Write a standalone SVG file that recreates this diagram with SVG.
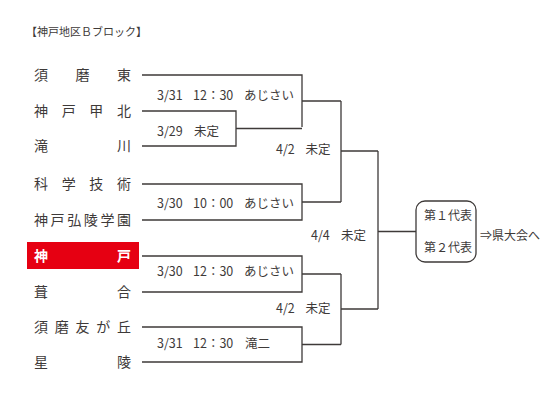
<svg xmlns="http://www.w3.org/2000/svg" width="560" height="400" viewBox="0 0 560 400">
<style>
text{font-family:"Noto Sans CJK JP","Noto Sans",sans-serif;fill:#3e3a39}
.team{font-size:14px}
.lbl{font-size:12.5px}
.ln{stroke:#3e3a39;stroke-width:1.3;fill:none}
</style>
<rect width="560" height="400" fill="#fff"/>
<text id="title" x="26" y="36" style="font-size:11px">【神戸地区Ｂブロック】</text>
<g id="teams">
<g id="t1"><text class="team" y="80"><tspan x="34">須</tspan><tspan x="75.5">磨</tspan><tspan x="117">東</tspan></text></g>
<g id="t2"><text class="team" y="116"><tspan x="34">神</tspan><tspan x="61.7">戸</tspan><tspan x="89.3">甲</tspan><tspan x="117">北</tspan></text></g>
<g id="t3"><text class="team" y="151"><tspan x="34">滝</tspan><tspan x="117">川</tspan></text></g>
<g id="t4"><text class="team" y="189"><tspan x="34">科</tspan><tspan x="61.7">学</tspan><tspan x="89.3">技</tspan><tspan x="117">術</tspan></text></g>
<g id="t5"><text class="team" y="225"><tspan x="34">神</tspan><tspan x="50.6">戸</tspan><tspan x="67.2">弘</tspan><tspan x="83.8">陵</tspan><tspan x="100.4">学</tspan><tspan x="117">園</tspan></text></g>
<g id="t6"><rect x="27" y="242" width="112" height="27" fill="#e60012"/><text class="team" y="261" style="fill:#fff;font-weight:bold"><tspan x="34">神</tspan><tspan x="117">戸</tspan></text></g>
<g id="t7"><text class="team" y="297"><tspan x="34">葺</tspan><tspan x="117">合</tspan></text></g>
<g id="t8"><text class="team" y="332"><tspan x="34">須</tspan><tspan x="54.75">磨</tspan><tspan x="75.5">友</tspan><tspan x="96.25">が</tspan><tspan x="117">丘</tspan></text></g>
<g id="t9"><text class="team" y="367"><tspan x="34">星</tspan><tspan x="117">陵</tspan></text></g>
</g>
<g id="connectors" class="ln">
<path d="M142 75H302V127M142 111H236V146H142M236 128.5H302M302 101H341"/>
<path d="M142 184H302V220H142M302 202H341M341 101V202M341 151H378"/>
<path d="M142 256H302V292H142M302 274H341"/>
<path d="M142 327H302V362H142M302 344.5H341M341 274V344.5M341 309H378"/>
<path d="M378 151V309M378 231.5H416"/>
</g>
<g id="labels" class="lbl">
<text y="99.5"><tspan x="157">3/31</tspan><tspan x="193">12：30</tspan><tspan x="244">あじさい</tspan></text>
<text y="135.5"><tspan x="157">3/29</tspan><tspan x="194">未定</tspan></text>
<text y="153.5"><tspan x="276">4/2</tspan><tspan x="305.5">未定</tspan></text>
<text y="207.5"><tspan x="157">3/30</tspan><tspan x="193">10：00</tspan><tspan x="244">あじさい</tspan></text>
<text y="239.5"><tspan x="311">4/4</tspan><tspan x="341">未定</tspan></text>
<text y="276"><tspan x="157">3/30</tspan><tspan x="193">12：30</tspan><tspan x="244">あじさい</tspan></text>
<text y="312.5"><tspan x="276">4/2</tspan><tspan x="305.5">未定</tspan></text>
<text y="347.5"><tspan x="157">3/31</tspan><tspan x="193">12：30</tspan><tspan x="245">滝二</tspan></text>
</g>
<g id="winner">
<rect x="416" y="201" width="60" height="61" rx="9" class="ln"/>
<text x="424" y="219.5" style="font-size:12px">第１代表</text>
<text x="424" y="251.5" style="font-size:12px">第２代表</text>
</g>
<text id="next" x="480" y="239.5" style="font-size:12px">⇒県大会へ</text>
</svg>
